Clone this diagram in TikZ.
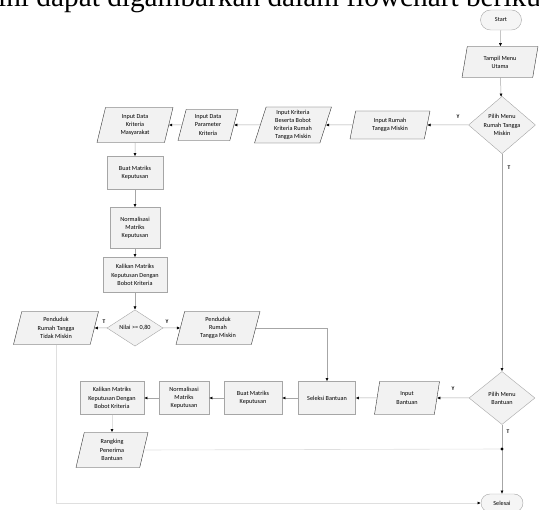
\documentclass[tikz,border=0pt]{standalone}
\usepackage{fontspec}
\setmainfont{Carlito}
\newfontfamily\judulfont{Liberation Serif}
\usetikzlibrary{shapes.geometric,shapes.misc,arrows.meta}

\begin{document}
\begin{tikzpicture}[x=1pt,y=-1pt,
    font=\fontsize{6.2}{8.2}\selectfont,
    proses/.style={draw=gray!70, fill=gray!10, align=center, inner sep=1pt},
    masukan/.style={trapezium, trapezium left angle=70, trapezium right angle=110,
        trapezium stretches body=true, draw=black!80, fill=gray!10, align=center, inner sep=1pt},
    pilihan/.style={diamond, draw=gray!70, fill=gray!10, align=center, inner sep=0pt},
    ujung/.style={rounded rectangle, draw=gray!70, fill=gray!8, inner sep=1pt},
    garis/.style={draw=gray!70, line width=0.5pt},
    garismuda/.style={draw=gray!25, line width=0.6pt},
    panah/.style={-{Latex[length=3.2pt,width=3pt,color=black]}},
    ket/.style={font=\fontsize{5.5}{6}\selectfont\bfseries, inner sep=0pt}]
    \useasboundingbox (0,0) rectangle (539,510);
    \clip (0,0) rectangle (539,510);

    % Judul (terpotong)
    \node[font=\judulfont\fontsize{29.3}{29.3}\selectfont, anchor=base west, inner sep=0pt] (judul) at (-2,7) {ini dapat digambarkan dalam flowchart berikut.};

    % Menu utama
    \node[ujung, minimum width=43pt, minimum height=20pt] (start) at (501,20) {Start};
    \node[masukan, minimum width=76pt, minimum height=31pt] (menu) at (500,62) {Tampil Menu\\Utama};
    \node[pilihan, minimum width=67pt, minimum height=53pt] (pilihrt) at (502,125) {Pilih Menu\\Rumah Tangga\\Miskin};

    % Rumah tangga miskin
    \node[masukan, minimum width=80pt, minimum height=28pt] (inrt) at (390,125) {Input Rumah\\Tangga Miskin};
    \node[masukan, minimum width=77pt, minimum height=36pt] (inkrit) at (293,125) {Input Kriteria\\Beserta Bobot\\Kriteria Rumah\\Tangga Miskin};
    \node[masukan, minimum width=60pt, minimum height=31pt] (inparam) at (208,125) {Input Data\\Parameter\\Kriteria};
    \node[masukan, minimum width=76pt, minimum height=35pt] (inmasy) at (135,125) {Input Data\\Kriteria\\Masyarakat};
    \node[proses, minimum width=56pt, minimum height=33pt] (matriks) at (135,173) {Buat Matriks\\Keputusan};
    \node[proses, minimum width=50pt, minimum height=41pt] (normal) at (135,228) {Normalisasi\\Matriks\\Keputusan};
    \node[proses, minimum width=64pt, minimum height=35pt] (kalikan) at (135,275) {Kalikan Matriks\\Keputusan Dengan\\Bobot Kriteria};
    \node[pilihan, minimum width=56pt, minimum height=34pt] (nilai) at (135,328) {Nilai >= 0,80};
    \node[masukan, minimum width=85pt, minimum height=33pt] (tdkmiskin) at (56,328) {Penduduk\\Rumah Tangga\\Tidak Miskin};
    \node[masukan, minimum width=84pt, minimum height=33pt] (miskin) at (218,328) {Penduduk\\Rumah\\Tangga Miskin};

    % Bantuan
    \node[pilihan, minimum width=66pt, minimum height=53pt] (pilihbt) at (502,398) {Pilih Menu\\Bantuan};
    \node[masukan, minimum width=65pt, minimum height=33pt] (inbantuan) at (407,398) {Input\\Bantuan};
    \node[proses, minimum width=57pt, minimum height=33pt] (seleksi) at (327,398) {Seleksi Bantuan};
    \node[proses, minimum width=58pt, minimum height=33pt] (matriksb) at (253,398) {Buat Matriks\\Keputusan};
    \node[proses, minimum width=50pt, minimum height=33pt] (normalb) at (184,398) {Normalisasi\\Matriks\\Keputusan};
    \node[proses, minimum width=64pt, minimum height=33pt] (kalikanb) at (112,398) {Kalikan Matriks\\Keputusan Dengan\\Bobot Kriteria};
    \node[masukan, minimum width=72pt, minimum height=35pt] (rangking) at (112,450) {Rangking\\Penerima\\Bantuan};
    \coordinate (titik) at (502,449);
    \node[ujung, minimum width=44pt, minimum height=18pt] (selesai) at (502,503) {Selesai};

    % Label Y / T
    \node[ket] at (458,117) {Y};
    \node[ket] at (509,168) {T};
    \node[ket] at (104,322) {T};
    \node[ket] at (167,322) {Y};
    \node[ket] at (453,389) {Y};
    \node[ket] at (508,432) {T};

    % Alur
    \draw[garis, panah] (start) -- (menu);
    \draw[garis, panah] (menu) -- (pilihrt);
    \draw[garis, panah] (pilihrt.west) -- (inrt.east);
    \draw[garis, panah] (inrt.west) -- (inkrit.east);
    \draw[garis, panah] (inkrit.west) -- (inparam.east);
    \draw[garis, panah] (inparam.west) -- (inmasy.east);
    \draw[garis, panah] (inmasy) -- (matriks);
    \draw[garis, panah] (matriks) -- (normal);
    \draw[garis, panah] (normal) -- (kalikan);
    \draw[garis, panah] (kalikan) -- (nilai);
    \draw[garis, panah] (nilai.west) -- (tdkmiskin.east);
    \draw[garis, panah] (nilai.east) -- (miskin.west);
    \draw[garis, panah] (miskin.east) -| (seleksi.north);
    \draw[garis, panah] (pilihrt.south) -- (pilihbt.north);
    \draw[garis, panah] (pilihbt.west) -- (inbantuan.east);
    \draw[garis, panah] (inbantuan.west) -- (seleksi.east);
    \draw[garis, panah] (seleksi) -- (matriksb);
    \draw[garis, panah] (matriksb) -- (normalb);
    \draw[garis, panah] (normalb) -- (kalikanb);
    \draw[garismuda, panah] (kalikanb) -- (rangking);
    \draw[garismuda] (rangking.east) -- (titik);
    \draw[garis] (pilihbt.south) -- (titik);
    \draw[garis, panah] (titik) -- (selesai.north);
    \fill (titik) circle (1.6pt);
    \draw[garismuda, panah] (tdkmiskin.south) |- (selesai.west);
\end{tikzpicture}
\end{document}
